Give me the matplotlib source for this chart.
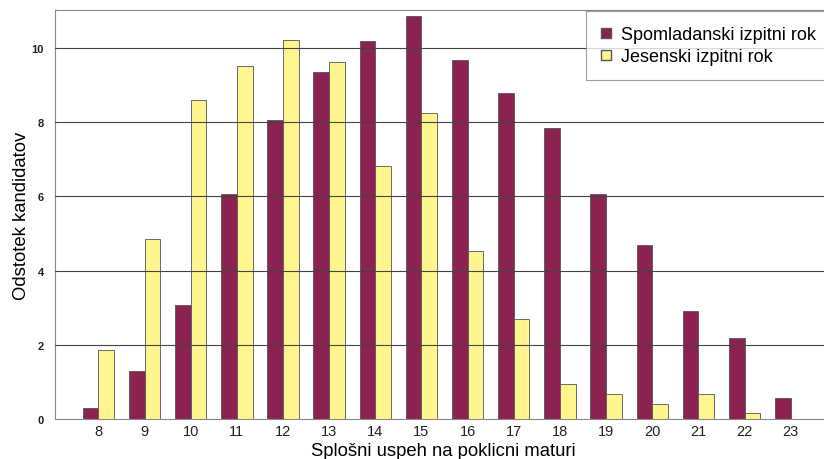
import numpy as np
import matplotlib
matplotlib.use("Agg")
from matplotlib import pyplot as plt
from matplotlib.lines import Line2D

plt.rcParams['font.family'] = ['Liberation Sans', 'DejaVu Sans']

scores = [8, 9, 10, 11, 12, 13, 14, 15, 16, 17, 18, 19, 20, 21, 22, 23]
spring = [0.30, 1.29, 3.07, 6.06, 8.06, 9.35, 10.19, 10.86, 9.68, 8.79, 7.84, 6.06, 4.69, 2.91, 2.18, 0.57]
autumn = [1.86, 4.85, 8.60, 9.51, 10.22, 9.62, 6.82, 8.25, 4.53, 2.70, 0.94, 0.67, 0.40, 0.67, 0.16, 0.0]
yticks = [0, 2, 4, 6, 8, 10]

c_spring = '#8b2252'
c_autumn = '#fff58f'

fig = plt.figure(figsize=(8.24, 4.6), dpi=100)
ax = fig.add_axes([55 / 824, 40 / 460, 1 - 55 / 824 + 0.01, 409 / 460])

x = np.arange(len(scores))
w = 0.34
ax.bar(x - w / 2, spring, w, color=c_spring, edgecolor='#555555', linewidth=0.6, zorder=2)
ax.bar(x + w / 2, [v if v > 0 else np.nan for v in autumn], w, color=c_autumn,
       edgecolor='#555555', linewidth=0.6, zorder=2)

for t in yticks[1:]:
    ax.axhline(t, color='#444444', linewidth=0.8, zorder=3)

ax.set_xlim(-0.94, 15.9)
ax.set_ylim(0, 11.02)
ax.set_xticks(x)
ax.set_xticklabels([str(s) for s in scores], fontsize=10.5)
ax.set_yticks(yticks)
ax.set_yticklabels([str(t) for t in yticks], fontsize=8, fontweight='bold')
ax.tick_params(axis='both', length=0, colors='#222222')
ax.tick_params(axis='y', pad=8)
for s in ax.spines.values():
    s.set_color('#888888')
    s.set_linewidth(0.8)

ax.set_ylabel('Odstotek kandidatov', fontsize=13.3, labelpad=1)
ax.set_xlabel('Splošni uspeh na poklicni maturi', fontsize=13.3, labelpad=3)

handles = [Line2D([], [], marker='s', linestyle='', markersize=6.5, markerfacecolor=c_spring, markeredgecolor='#555555'),
           Line2D([], [], marker='s', linestyle='', markersize=6.5, markerfacecolor=c_autumn, markeredgecolor='#555555')]
leg = fig.legend(handles, ['Spomladanski izpitni rok', 'Jesenski izpitni rok'],
                 loc='upper left', bbox_to_anchor=(586 / 824, 1 - 79 / 460, 240 / 824, 67 / 460),
                 mode='expand', fontsize=13, frameon=True, fancybox=False,
                 handletextpad=0.6, borderpad=0.85, labelspacing=0.25, handlelength=0.5,
                 borderaxespad=0)
leg.get_frame().set_edgecolor('#888888')
leg.get_frame().set_linewidth(0.8)

fig.savefig('out.png', dpi=100)
